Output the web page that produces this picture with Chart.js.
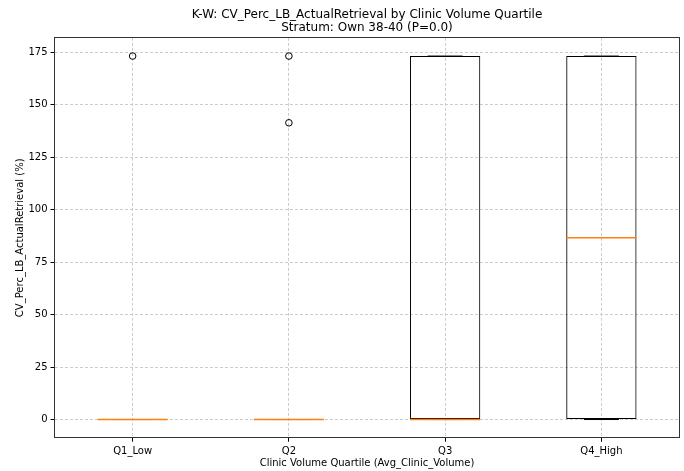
<!DOCTYPE html>
<html>
<head>
<meta charset="utf-8">
<script src="https://cdn.jsdelivr.net/npm/chart.js@4"></script>
<style>
  html, body { margin: 0; padding: 0; background: #fff; }
  #wrap { width: 684px; height: 471px; }
</style>
</head>
<body>
<div id="wrap"><canvas id="kw-box" width="684" height="471"></canvas></div>
<script>
const categories = ['Q1_Low', 'Q2', 'Q3', 'Q4_High'];
const boxQ1 = [0, 0, 0, 0];
const boxQ3 = [0, 0, 173.2, 173.2];
const medians = [0, 0, 0, 86.6];
const whiskerLow = [0, 0, 0, 0];
const whiskerHigh = [0, 0, 173.2, 173.2];
const outliersQ1 = [173.2];
const outliersQ2 = [173.2, 141.4];
const outliersQ3 = [];
const outliersQ4 = [];
const yTicks = [0, 25, 50, 75, 100, 125, 150, 175];

const FONT = "'DejaVu Sans', sans-serif";
const outlierPoints = [];
[outliersQ1, outliersQ2, outliersQ3, outliersQ4].forEach((list, i) => {
  list.forEach((v) => outlierPoints.push({ x: categories[i], y: v }));
});

(async function () {
  new Chart(document.getElementById('kw-box'), {
    data: {
      labels: categories,
      datasets: [
        {
          // medianas
          type: 'line',
          data: medians,
          showLine: false,
          pointStyle: 'line',
          pointRadius: 35,
          pointHoverRadius: 35,
          borderColor: '#ff7f0e',
          pointBorderWidth: 1.5,
        },
        {
          type: 'line',
          data: outlierPoints,
          showLine: false,
          pointStyle: 'circle',
          pointRadius: 3.3,
          pointBackgroundColor: 'rgba(0,0,0,0)',
          pointBorderColor: '#000',
          pointBorderWidth: 1,
        },
        {
          type: 'line',
          data: whiskerLow,
          showLine: false,
          pointStyle: 'line',
          pointRadius: 17.5,
          borderColor: '#000',
          pointBorderWidth: 1,
        },
        {
          type: 'line',
          data: whiskerHigh,
          showLine: false,
          pointStyle: 'line',
          pointRadius: 17.5,
          borderColor: '#000',
          pointBorderWidth: 1,
        },
        {
          type: 'bar',
          data: boxQ1.map((v, i) => [v, boxQ3[i]]),
          backgroundColor: 'rgba(255,255,255,0)',
          borderColor: '#000',
          borderWidth: 1,
          borderSkipped: false,
          categoryPercentage: 1,
          barPercentage: 0.45,
        },
      ],
    },
    options: {
      responsive: false,
      animation: false,
      layout: { autoPadding: false, padding: { left: 0, right: 4.5, top: 0, bottom: 0 } },
      plugins: {
        legend: { display: false },
        tooltip: { enabled: false },
        title: {
          display: true,
          fullSize: false,
          text: ['K-W: CV_Perc_LB_ActualRetrieval by Clinic Volume Quartile', 'Stratum: Own 38-40 (P=0.0)'],
          color: '#000',
          font: { family: FONT, size: 12, weight: 'normal', lineHeight: 1.12 },
          padding: { top: 8, bottom: 3 },
        },
      },
      scales: {
        x: {
          type: 'category',
          offset: true,
          grid: { color: '#cccccc', offset: false, tickColor: '#000', tickLength: 4, tickBorderDash: [] },
          border: { color: '#333', width: 1, dash: [3, 2] },
          ticks: { color: '#000', font: { family: FONT, size: 10 }, padding: 4 },
          title: { display: true, text: 'Clinic Volume Quartile (Avg_Clinic_Volume)', color: '#000', font: { family: FONT, size: 10 }, padding: { top: 3, bottom: 2 } },
          afterFit: (s) => { s.height = 33.3; },
        },
        xTop: {
          type: 'category',
          position: 'top',
          grid: { display: false },
          border: { display: true, color: '#333', width: 1 },
          ticks: { display: false },
          afterFit: (s) => { s.height = 0; },
        },
        y: {
          min: -8.66,
          max: 181.86,
          grid: { color: '#cccccc', tickColor: '#000', tickLength: 4, tickBorderDash: [] },
          border: { color: '#333', width: 1, dash: [3, 2] },
          afterBuildTicks: (s) => { s.ticks = yTicks.map((v) => ({ value: v })); },
          ticks: { color: '#000', font: { family: FONT, size: 10 }, padding: 3 },
          title: { display: true, text: 'CV_Perc_LB_ActualRetrieval (%)', color: '#000', font: { family: FONT, size: 10 }, padding: { top: 14, bottom: 4 } },
          afterFit: (s) => { s.width = 54.5; },
        },
        yRight: {
          position: 'right',
          min: -8.66,
          max: 181.86,
          grid: { display: false },
          border: { display: true, color: '#333', width: 1 },
          ticks: { display: false },
          afterFit: (s) => { s.width = 0; },
        },
      },
    },
  });
})();
</script>
</body>
</html>
